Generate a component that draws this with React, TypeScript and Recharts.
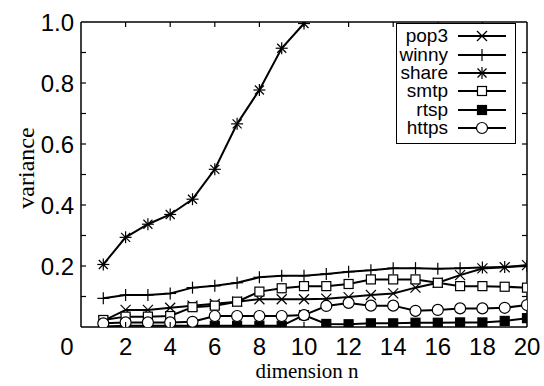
import React from 'react';
import { LineChart, Line, XAxis, YAxis, ReferenceLine } from 'recharts';

const DIMS = [1, 2, 3, 4, 5, 6, 7, 8, 9, 10, 11, 12, 13, 14, 15, 16, 17, 18, 19, 20];
const POP3 = [0.02, 0.056, 0.056, 0.063, 0.07, 0.076, 0.083, 0.091, 0.091, 0.091, 0.093, 0.098, 0.105, 0.11, 0.129, 0.145, 0.17, 0.192, 0.196, 0.203];
const WINNY = [0.094, 0.105, 0.105, 0.11, 0.129, 0.135, 0.145, 0.163, 0.168, 0.168, 0.174, 0.181, 0.186, 0.193, 0.193, 0.191, 0.193, 0.195, 0.197, 0.2];
const SHARE = [0.205, 0.294, 0.337, 0.369, 0.419, 0.517, 0.666, 0.777, 0.914, 0.995];
const SMTP = [0.023, 0.034, 0.034, 0.036, 0.065, 0.07, 0.083, 0.116, 0.127, 0.134, 0.134, 0.141, 0.156, 0.156, 0.156, 0.145, 0.134, 0.134, 0.132, 0.129];
const RTSP = [0.002, 0.004, 0.004, 0.004, 0.004, 0.004, 0.004, 0.004, 0.004, 0.039, 0.01, 0.009, 0.012, 0.012, 0.014, 0.014, 0.015, 0.015, 0.02, 0.029];
const HTTPS = [0.012, 0.015, 0.015, 0.015, 0.017, 0.036, 0.036, 0.036, 0.036, 0.039, 0.069, 0.079, 0.07, 0.07, 0.053, 0.056, 0.061, 0.061, 0.063, 0.072];

const X_TICKS = [0, 2, 4, 6, 8, 10, 12, 14, 16, 18, 20];
const Y_TICKS = [0, 0.1, 0.2, 0.3, 0.4, 0.5, 0.6, 0.7, 0.8, 0.9, 1.0];

const SERIES = [
  { key: 'pop3', values: POP3, marker: 'cross' },
  { key: 'winny', values: WINNY, marker: 'plus' },
  { key: 'share', values: SHARE, marker: 'star' },
  { key: 'smtp', values: SMTP, marker: 'openSquare' },
  { key: 'rtsp', values: RTSP, marker: 'filledSquare' },
  { key: 'https', values: HTTPS, marker: 'openCircle' },
];

const data = DIMS.map((d, i) => {
  const row: any = { x: d };
  SERIES.forEach((s) => {
    row[s.key] = i < s.values.length ? s.values[i] : null;
  });
  return row;
});

// layout
const W = 544;
const H = 386;
const PLOT_LEFT = 81;
const PLOT_RIGHT = 527;
const PLOT_TOP = 22;
const PLOT_BOTTOM = 327;
const TICK_LEN = 5;
const SANS = '"Liberation Sans", Arial, sans-serif';
const SERIF = '"Liberation Serif", "Times New Roman", serif';

const Marker = ({ type, cx, cy }: { type: string; cx: number; cy: number }) => {
  const sw = 1.2;
  switch (type) {
    case 'cross':
      return (
        <g stroke="#000" strokeWidth={sw}>
          <line x1={cx - 5} y1={cy - 5} x2={cx + 5} y2={cy + 5} />
          <line x1={cx - 5} y1={cy + 5} x2={cx + 5} y2={cy - 5} />
        </g>
      );
    case 'plus':
      return (
        <g stroke="#000" strokeWidth={sw}>
          <line x1={cx - 6} y1={cy} x2={cx + 6} y2={cy} />
          <line x1={cx} y1={cy - 6} x2={cx} y2={cy + 6} />
        </g>
      );
    case 'star':
      return (
        <g stroke="#000" strokeWidth={sw}>
          <line x1={cx - 6} y1={cy} x2={cx + 6} y2={cy} />
          <line x1={cx} y1={cy - 6} x2={cx} y2={cy + 6} />
          <line x1={cx - 4.5} y1={cy - 4.5} x2={cx + 4.5} y2={cy + 4.5} />
          <line x1={cx - 4.5} y1={cy + 4.5} x2={cx + 4.5} y2={cy - 4.5} />
        </g>
      );
    case 'openSquare':
      return <rect x={cx - 4.5} y={cy - 4.5} width={9} height={9} fill="#fff" stroke="#000" strokeWidth={sw} />;
    case 'filledSquare':
      return <rect x={cx - 4.5} y={cy - 4.5} width={9} height={9} fill="#000" stroke="#000" strokeWidth={sw} />;
    default:
      return <circle cx={cx} cy={cy} r={5.5} fill="#fff" stroke="#000" strokeWidth={sw} />;
  }
};

const makeDot = (type: string) => (props: any) => {
  const { cx, cy, index, value } = props;
  if (value == null || cx == null || cy == null) return <g key={`e-${index}`} />;
  return (
    <g key={`d-${index}`}>
      <Marker type={type} cx={cx} cy={cy} />
    </g>
  );
};

const XTick = (props: any) => {
  const { x, payload } = props;
  const v = payload.value;
  const showTicks = v !== 0 && v !== 20;
  return (
    <g>
      {showTicks && (
        <g stroke="#000" strokeWidth={1.2}>
          <line x1={x} y1={PLOT_BOTTOM} x2={x} y2={PLOT_BOTTOM - TICK_LEN} />
          <line x1={x} y1={PLOT_TOP} x2={x} y2={PLOT_TOP + TICK_LEN} />
        </g>
      )}
      <text
        x={v === 0 ? x - 14 : x}
        y={PLOT_BOTTOM + 28}
        textAnchor="middle"
        fontFamily={SANS}
        fontSize={24}
        fill="#000"
      >
        {v}
      </text>
    </g>
  );
};

const YTick = (props: any) => {
  const { y, payload } = props;
  const v = payload.value;
  const tenth = Math.round(v * 10);
  const showTicks = tenth !== 0 && tenth !== 10;
  const showLabel = tenth !== 0 && tenth % 2 === 0;
  return (
    <g>
      {showTicks && (
        <g stroke="#000" strokeWidth={1.2}>
          <line x1={PLOT_LEFT} y1={y} x2={PLOT_LEFT + TICK_LEN} y2={y} />
          <line x1={PLOT_RIGHT} y1={y} x2={PLOT_RIGHT - TICK_LEN} y2={y} />
        </g>
      )}
      {showLabel && (
        <text x={PLOT_LEFT - 7} y={y} dy="0.355em" textAnchor="end" fontFamily={SANS} fontSize={24} fill="#000">
          {v.toFixed(1)}
        </text>
      )}
    </g>
  );
};

const LegendBox = () => (
  <div
    style={{
      position: 'absolute',
      left: 396,
      top: 23,
      width: 120,
      height: 121,
      boxSizing: 'border-box',
      border: '1.2px solid #000',
      background: '#fff',
      paddingTop: 3,
      fontFamily: SANS,
      fontSize: 19,
    }}
  >
    {SERIES.map((s) => (
      <div key={s.key} style={{ display: 'flex', alignItems: 'center', height: 18.4 }}>
        <span style={{ width: 51, textAlign: 'right', lineHeight: '18px' }}>{s.key}</span>
        <svg width={50} height={18} style={{ marginLeft: 10 }}>
          <line x1={0} y1={9} x2={48} y2={9} stroke="#000" strokeWidth={2} />
          <Marker type={s.marker} cx={24} cy={9} />
        </svg>
      </div>
    ))}
  </div>
);

const App: React.FC = () => {
  return (
    <div style={{ position: 'absolute', left: 0, top: 0, width: W, height: H, background: '#fff' }}>
      <LineChart
        width={W}
        height={H}
        data={data}
        margin={{ top: PLOT_TOP, right: W - PLOT_RIGHT, bottom: 0, left: 0 }}
      >
        <XAxis
          dataKey="x"
          type="number"
          domain={[0, 20]}
          ticks={X_TICKS}
          height={H - PLOT_BOTTOM}
          tickSize={0}
          tickMargin={10}
          tick={<XTick />}
          axisLine={{ stroke: '#000', strokeWidth: 1.5 }}
          tickLine={false}
          interval={0}
          allowDataOverflow
        />
        <YAxis
          type="number"
          domain={[0, 1]}
          ticks={Y_TICKS}
          width={PLOT_LEFT}
          tickSize={0}
          tickMargin={7}
          tick={<YTick />}
          axisLine={{ stroke: '#000', strokeWidth: 1.5 }}
          tickLine={false}
          interval={0}
          allowDataOverflow
        />
        <ReferenceLine y={1} stroke="#000" strokeWidth={1.5} ifOverflow="visible" />
        <ReferenceLine x={20} stroke="#000" strokeWidth={1.5} ifOverflow="visible" />
        {SERIES.map((s) => (
          <Line
            key={s.key}
            dataKey={s.key}
            type="linear"
            stroke="#000"
            strokeWidth={2}
            dot={makeDot(s.marker)}
            activeDot={false}
            isAnimationActive={false}
            connectNulls={false}
          />
        ))}
        <text
          x={307}
          y={378}
          textAnchor="middle"
          fontFamily={SERIF}
          fontSize={21}
          fill="#000"
        >
          dimension n
        </text>
        <text
          transform="rotate(-90)"
          x={-168}
          y={34}
          textAnchor="middle"
          fontFamily={SERIF}
          fontSize={24}
          fill="#000"
        >
          variance
        </text>
      </LineChart>
      <LegendBox />
    </div>
  );
};

export default App;
